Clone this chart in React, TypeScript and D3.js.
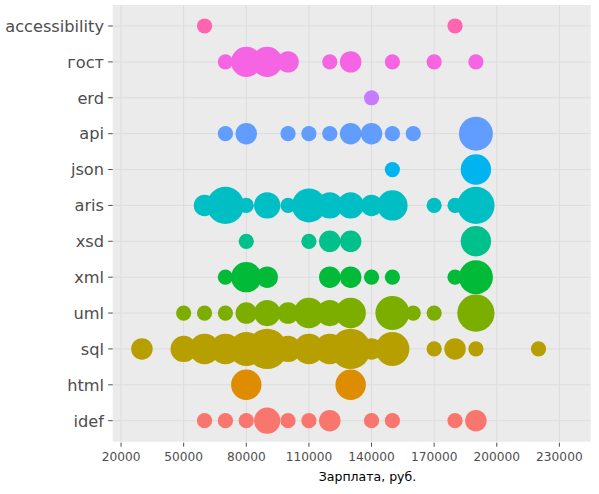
import React from "react";
import * as d3 from "d3";

// skills listed top to bottom, as on the y axis
const skills = ["accessibility", "гост", "erd", "api", "json", "aris", "xsd", "xml", "uml", "sql", "html", "idef"];
const skillColors = ["#FF64B0", "#F564E3", "#C77CFF", "#619CFF", "#00B4F0", "#00BFC4", "#00C08B", "#00BA38", "#7CAE00", "#B79F00", "#DE8C00", "#F8766D"];

// [salary, number of vacancies]
const accessibility = [[60000, 1], [180000, 1]];
const gost = [[70000, 1], [80000, 4], [90000, 4], [100000, 2], [120000, 1], [130000, 2], [150000, 1], [170000, 1], [190000, 1]];
const erd = [[140000, 1]];
const api = [[70000, 1], [80000, 2], [100000, 1], [110000, 1], [120000, 1], [130000, 2], [140000, 2], [150000, 1], [160000, 1], [190000, 5]];
const json = [[150000, 1], [190000, 4]];
const aris = [[60000, 2], [70000, 6], [80000, 1], [90000, 3], [100000, 1], [110000, 5], [120000, 3], [130000, 3], [140000, 2], [150000, 4], [170000, 1], [180000, 1], [190000, 6]];
const xsd = [[80000, 1], [110000, 1], [120000, 2], [130000, 2], [190000, 4]];
const xml = [[70000, 1], [80000, 4], [90000, 2], [120000, 2], [130000, 2], [140000, 1], [150000, 1], [180000, 1], [190000, 5]];
const uml = [[50000, 1], [60000, 1], [70000, 1], [80000, 2], [90000, 3], [100000, 2], [110000, 4], [120000, 3], [130000, 4], [150000, 5], [160000, 1], [170000, 1], [190000, 6]];
const sql = [[30000, 2], [50000, 3], [60000, 4], [70000, 4], [80000, 5], [90000, 7], [100000, 3], [110000, 4], [120000, 4], [130000, 7], [140000, 2], [150000, 5], [170000, 1], [180000, 2], [190000, 1], [220000, 1]];
const html = [[80000, 4], [130000, 4]];
const idef = [[60000, 1], [70000, 1], [80000, 1], [90000, 3], [100000, 1], [110000, 1], [120000, 2], [140000, 1], [150000, 1], [180000, 1], [190000, 2]];

const xTicks = [20000, 50000, 80000, 110000, 140000, 170000, 200000, 230000];
const xTitle = "Зарплата, руб.";

const series = [accessibility, gost, erd, api, json, aris, xsd, xml, uml, sql, html, idef];

const W = 599, H = 494;
const left = 112.7, right = 590.7, top = 5, bottom = 441.7;
const FONT = "'DejaVu Sans', Verdana, sans-serif";

export default function App() {
  const x = d3.scaleLinear().domain([16000, 245000]).range([left, right]);
  const y = d3.scalePoint<string>().domain(skills).range([top, bottom]).padding(0.585);
  const r = d3.scaleSqrt().domain([0, 7]).range([0, 7.6 * Math.sqrt(7)]);
  const color = d3.scaleOrdinal<string, string>().domain(skills).range(skillColors);

  const points: any[] = [];
  series.forEach((s, i) => {
    s.forEach((d) => points.push({ skill: skills[i], salary: d[0], n: d[1] }));
  });

  return (
    <svg width={W} height={H} style={{ position: "absolute", left: 0, top: 0, background: "#fff" }}>
      <rect x={left} y={top} width={right - left} height={bottom - top} fill="#EBEBEB" />
      {xTicks.map((t) => (
        <line key={"gx" + t} x1={x(t)} x2={x(t)} y1={top} y2={bottom} stroke="#DCDCDC" strokeWidth={1} />
      ))}
      {skills.map((s) => (
        <line key={"gy" + s} x1={left} x2={right} y1={y(s)} y2={y(s)} stroke="#DCDCDC" strokeWidth={1} />
      ))}
      {points.map((p, i) => (
        <circle key={i} cx={x(p.salary)} cy={y(p.skill)} r={r(p.n)} fill={color(p.skill)} />
      ))}
      {skills.map((s) => (
        <g key={"ty" + s}>
          <line x1={left - 4.5} x2={left} y1={y(s)} y2={y(s)} stroke="#4D4D4D" strokeWidth={1} />
          <text x={104} y={y(s)} dy="0.36em" textAnchor="end" fontFamily={FONT} fontSize={16.2} fill="#4D4D4D">
            {s}
          </text>
        </g>
      ))}
      {xTicks.map((t) => (
        <g key={"tx" + t}>
          <line x1={x(t)} x2={x(t)} y1={bottom + 1} y2={bottom + 5} stroke="#4D4D4D" strokeWidth={1} />
          <text x={x(t)} y={461} textAnchor="middle" fontFamily={FONT} fontSize={12.2} fill="#4D4D4D">
            {t}
          </text>
        </g>
      ))}
      <text x={367.5} y={480.5} textAnchor="middle" fontFamily={FONT} fontSize={12.5} fill="#000">
        {xTitle}
      </text>
    </svg>
  );
}
